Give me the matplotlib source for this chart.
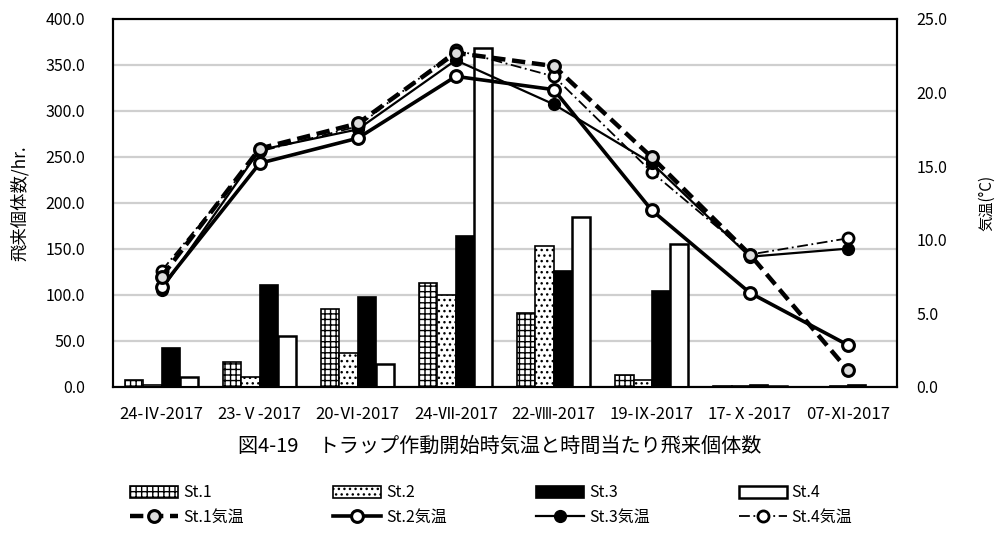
import matplotlib
matplotlib.use('Agg')
import matplotlib.pyplot as plt
import numpy as np

plt.rcParams['font.family'] = ['Noto Sans CJK JP', 'DejaVu Sans']
plt.rcParams['hatch.linewidth'] = 1.0

dates = ['24-Ⅳ-2017', '23-Ⅴ-2017', '20-Ⅵ-2017', '24-Ⅶ-2017',
         '22-Ⅷ-2017', '19-Ⅸ-2017', '17-Ⅹ-2017', '07-Ⅺ-2017']

# flying individuals per hour
st1 = [7.5, 27.5, 84.5, 113.5, 80.0, 13.0, 1.0, 0.5]
st2 = [2.0, 10.5, 36.5, 99.5, 153.5, 7.5, 1.0, 1.0]
st3 = [42.0, 111.0, 98.0, 164.5, 126.5, 104.5, 2.0, 2.5]
st4 = [10.5, 55.5, 25.5, 368.0, 185.0, 155.0, 1.0, 0.5]

# air temperature at trap start
t1 = [7.5, 16.2, 17.9, 22.7, 21.8, 15.6, 9.0, 1.15]
t2 = [6.8, 15.2, 16.9, 21.1, 20.2, 12.0, 6.4, 2.85]
t3 = [6.6, 16.1, 17.5, 22.2, 19.2, 15.2, 8.85, 9.4]
t4 = [7.9, 16.0, 17.7, 22.9, 21.1, 14.6, 9.0, 10.1]

fig = plt.figure(figsize=(9.99, 5.36), dpi=100)
ax = fig.add_axes([0.1128, 0.278, 0.785, 0.6866])
ax2 = ax.twinx()

x = np.arange(len(dates))
w = 0.187
b1 = ax.bar(x - 1.5*w, st1, w, color='white', edgecolor='black', hatch='+++', linewidth=1.2, zorder=3)
b2 = ax.bar(x - 0.5*w, st2, w, color='white', edgecolor='black', hatch='...', linewidth=1.2, zorder=3)
b3 = ax.bar(x + 0.5*w, st3, w, color='black', edgecolor='black', linewidth=1.2, zorder=3)
b4 = ax.bar(x + 1.5*w, st4, w, color='white', edgecolor='black', linewidth=1.8, zorder=3)

ax.set_ylim(0, 400)
ax.set_yticks(np.arange(0, 401, 50))
ax.set_yticklabels([f'{v:.1f}' for v in np.arange(0, 401, 50)])
ax.set_xlim(-0.5, len(dates) - 0.5)
ax.set_xticks(x)
ax.set_xticklabels(dates, fontsize=12)
ax.yaxis.grid(True, color='#cfcfcf', linewidth=1.6, zorder=0)
ax.set_axisbelow(True)
ax.tick_params(axis='y', length=0, labelsize=11.5, pad=20)
ax.tick_params(axis='x', length=0, pad=14)
for s in ax.spines.values():
    s.set_linewidth(1.5)
ax.set_ylabel('飛来個体数/hr.', fontsize=12.5, labelpad=12)

l4, = ax2.plot(x, t4, color='black', linestyle=(0, (6, 2, 1, 2)), linewidth=1.3,
               marker='o', markersize=8, markerfacecolor='white', markeredgewidth=2, zorder=4)
l3, = ax2.plot(x, t3, color='black', linestyle='-', linewidth=1.6,
               marker='o', markersize=8.5, markerfacecolor='black', zorder=4)
l2, = ax2.plot(x, t2, color='black', linestyle='-', linewidth=2.6,
               marker='o', markersize=8.5, markerfacecolor='white', markeredgewidth=2.2, zorder=4)
l1, = ax2.plot(x, t1, color='black', linestyle=(0, (3, 1.5)), linewidth=3.2,
               marker='o', markersize=8.5, markerfacecolor='#dddddd', markeredgewidth=2.2, zorder=5)
ax2.set_ylim(0, 25)
ax2.set_yticks(np.arange(0, 26, 5))
ax2.set_yticklabels([f'{v:.1f}' for v in np.arange(0, 26, 5)])
ax2.tick_params(axis='y', length=0, labelsize=11.5, pad=14)
for s in ax2.spines.values():
    s.set_linewidth(1.5)
ax2.set_ylabel('気温(°C)', fontsize=11, labelpad=22, rotation=90)

fig.text(0.5, 0.168, '図4-19　トラップ作動開始時気温と時間当たり飛来個体数',
         ha='center', va='center', fontsize=14.5)

handles = [b1, l1, b2, l2, b3, l3, b4, l4]
labels = ['St.1', 'St.1気温', 'St.2', 'St.2気温', 'St.3', 'St.3気温', 'St.4', 'St.4気温']
fig.legend(handles, labels, ncol=4, loc='center', bbox_to_anchor=(0.492, 0.058),
           frameon=False, fontsize=11.5, handlelength=3.0, handleheight=0.8,
           columnspacing=5.6, handletextpad=0.3, labelspacing=0.45)

fig.savefig('out.png', dpi=100)
